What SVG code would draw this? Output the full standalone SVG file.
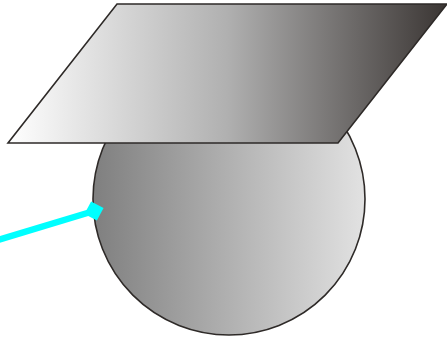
<svg xmlns="http://www.w3.org/2000/svg" width="447" height="340" viewBox="0 0 447 340">
  <style>
    .outline { stroke: #2e2a28; stroke-width: 1.6; }
    .conn { stroke: #00ffff; stroke-width: 6.5; fill: none; }
  </style>
  <defs>
    <linearGradient id="gHead" gradientUnits="userSpaceOnUse" x1="93" y1="0" x2="365" y2="0">
      <stop offset="0" stop-color="#7f7f7f"/>
      <stop offset="1" stop-color="#e2e2e2"/>
    </linearGradient>
    <linearGradient id="gCap" gradientUnits="userSpaceOnUse" x1="8" y1="0" x2="447" y2="0">
      <stop offset="0" stop-color="#ffffff"/>
      <stop offset="0.5" stop-color="#b0b0b0"/>
      <stop offset="1" stop-color="#3a3533"/>
    </linearGradient>
    <marker id="diamond" viewBox="-12 -12 24 24" markerWidth="24" markerHeight="24" refX="0" refY="0" markerUnits="userSpaceOnUse" orient="auto">
      <polygon points="-10,0 0,-10 10,0 0,10" fill="#00ffff"/>
    </marker>
  </defs>
  <g id="head">
    <circle cx="229" cy="199" r="136" fill="url(#gHead)" class="outline"/>
  </g>
  <g id="cap">
    <polygon points="117,4 447,4 338,143 8,143" fill="url(#gCap)" class="outline"/>
  </g>
  <g id="connectors">
    <line x1="-2" y1="240" x2="94" y2="211" class="conn" marker-end="url(#diamond)"/>
  </g>
</svg>
